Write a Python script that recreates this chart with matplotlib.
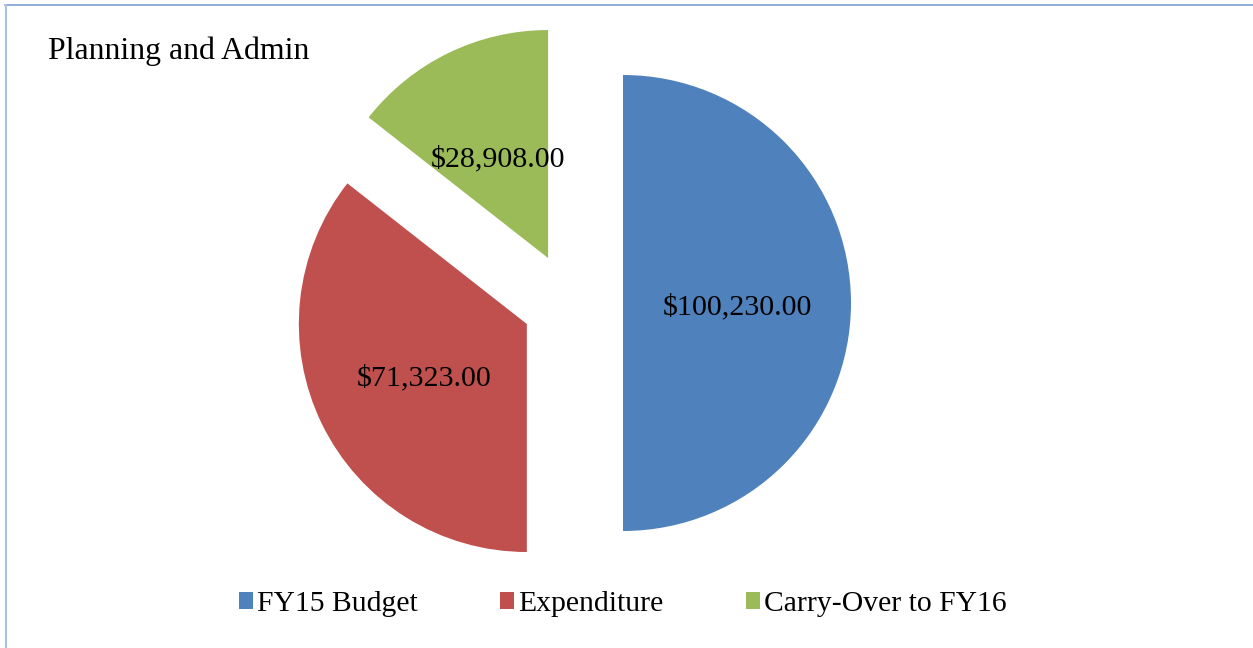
import matplotlib.pyplot as plt
from matplotlib.lines import Line2D
from matplotlib.patches import Patch

# data
categories = ['FY15 Budget', 'Expenditure', 'Carry-Over to FY16']
amounts = [100230.00, 71323.00, 28908.00]
colors = ['#4F81BD', '#C0504D', '#9BBB59']
title = 'Planning and Admin'

W, H = 1253, 648
plt.rcParams['font.family'] = ['Liberation Serif', 'DejaVu Serif']

fig = plt.figure(figsize=(W / 100, H / 100), dpi=100)
ax = fig.add_axes([0, 0, 1, 1])

labels_txt = iter(['${:,.2f}'.format(v) for v in amounts])
wedges, texts, autotexts = ax.pie(
    amounts, colors=colors, startangle=90, counterclock=False,
    center=(570, H - 303), radius=228, explode=[53, 48, 50],
    autopct=lambda p: next(labels_txt), pctdistance=0.5,
    textprops={'fontsize': 21.6, 'color': 'black'}, frame=True)
# nudge value labels down a little, like the original rendering
for t in autotexts:
    x, y = t.get_position()
    t.set_position((x, y - 4))
ax.set_xlim(0, W)
ax.set_ylim(0, H)
ax.set_aspect('equal')
ax.axis('off')

fig.text(48 / W, 1 - 51 / H, title, fontsize=22.9, va='center', ha='left')

# chart border
fig.add_artist(Line2D([5 / W, 1], [1 - 5 / H, 1 - 5 / H], color='#7a9fd2', lw=1.2))
fig.add_artist(Line2D([5.5 / W, 5.5 / W], [0, 1 - 5 / H], color='#a9c3e3', lw=1.5))

handles = [Patch(facecolor=c, edgecolor='none') for c in colors]
fig.legend(handles, categories, loc='center', bbox_to_anchor=(623 / W, 1 - 604 / H),
           ncol=3, frameon=False, fontsize=21.3, handlelength=0.47, handleheight=0.47,
           handletextpad=0.15, columnspacing=2.78)

fig.savefig('out.png', dpi=100)
